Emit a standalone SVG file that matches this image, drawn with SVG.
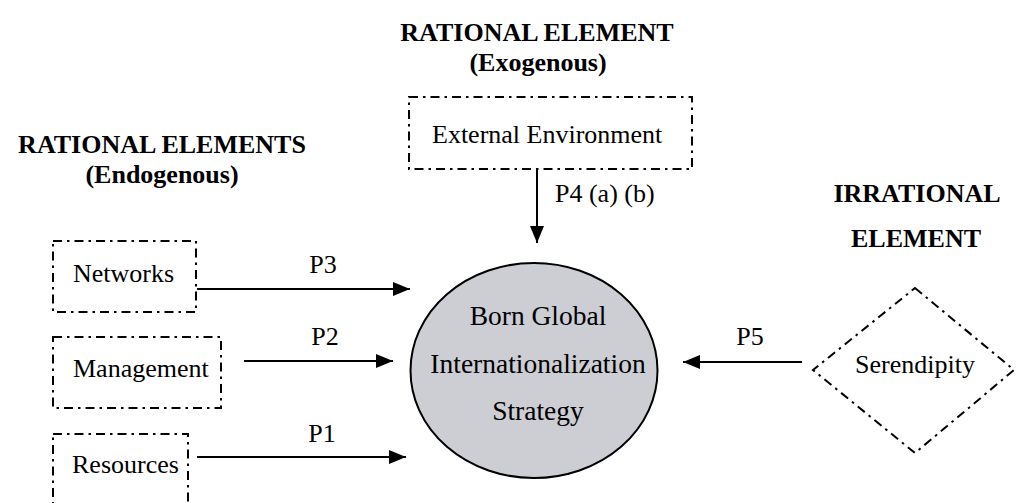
<svg xmlns="http://www.w3.org/2000/svg" width="1017" height="503" viewBox="0 0 1017 503">
  <defs>
    <marker id="arrow" markerUnits="userSpaceOnUse" markerWidth="18" markerHeight="14" refX="17" refY="7" orient="auto">
      <path d="M0,0 L17,7 L0,14 z" fill="#000"/>
    </marker>
    <style>
      text { font-family: "Liberation Serif", "Times New Roman", serif; fill: #000; }
      .title { font-size: 26px; font-weight: bold; text-anchor: middle; }
      .label { font-size: 26px; }
      .mid { text-anchor: middle; }
      .core { font-size: 27.5px; text-anchor: middle; }
      .dashbox { fill: none; stroke: #000; stroke-width: 2; stroke-dasharray: 9 5 2.5 5; }
      .link { stroke: #000; stroke-width: 2; fill: none; marker-end: url(#arrow); }
    </style>
  </defs>
  <rect width="1017" height="503" fill="#fff"/>

  <!-- group headings -->
  <g id="headings">
    <text class="title" x="537" y="41">RATIONAL ELEMENT</text>
    <text class="title" x="538" y="71">(Exogenous)</text>
    <text class="title" x="162" y="153">RATIONAL ELEMENTS</text>
    <text class="title" x="162" y="183">(Endogenous)</text>
    <text class="title" x="917" y="202">IRRATIONAL</text>
    <text class="title" x="916" y="247">ELEMENT</text>
  </g>

  <!-- connectors -->
  <g id="connectors">
    <line class="link" x1="537" y1="169" x2="537" y2="243"/>
    <line class="link" x1="197" y1="289" x2="410" y2="289"/>
    <line class="link" x1="244" y1="361" x2="393" y2="361"/>
    <line class="link" x1="197" y1="457" x2="406" y2="457"/>
    <line class="link" x1="802" y1="362" x2="683" y2="362"/>
    <text class="label" x="555" y="202">P4 (a) (b)</text>
    <text class="label mid" x="323" y="273">P3</text>
    <text class="label mid" x="325" y="345">P2</text>
    <text class="label mid" x="322" y="442">P1</text>
    <text class="label mid" x="750" y="345">P5</text>
  </g>

  <g id="external-environment">
    <rect class="dashbox" x="409" y="97" width="283" height="72"/>
    <text class="label" x="432" y="143">External Environment</text>
  </g>

  <g id="networks">
    <rect class="dashbox" x="53" y="241" width="143" height="71"/>
    <text class="label" x="73" y="282">Networks</text>
  </g>

  <g id="management">
    <rect class="dashbox" x="53" y="337" width="168" height="71"/>
    <text class="label" x="73" y="377">Management</text>
  </g>

  <g id="resources">
    <rect class="dashbox" x="53" y="434" width="135" height="90"/>
    <text class="label" x="72" y="473">Resources</text>
  </g>

  <g id="strategy">
    <ellipse cx="534" cy="370.5" rx="123.5" ry="107.5" fill="#cdcdd4" stroke="#000" stroke-width="2"/>
    <text class="core" x="538" y="325">Born Global</text>
    <text class="core" x="538" y="373">Internationalization</text>
    <text class="core" x="538" y="420">Strategy</text>
  </g>

  <g id="serendipity">
    <polygon class="dashbox" points="915,288 1014,370 915,453 813,370"/>
    <text class="label mid" x="915" y="373">Serendipity</text>
  </g>
</svg>
